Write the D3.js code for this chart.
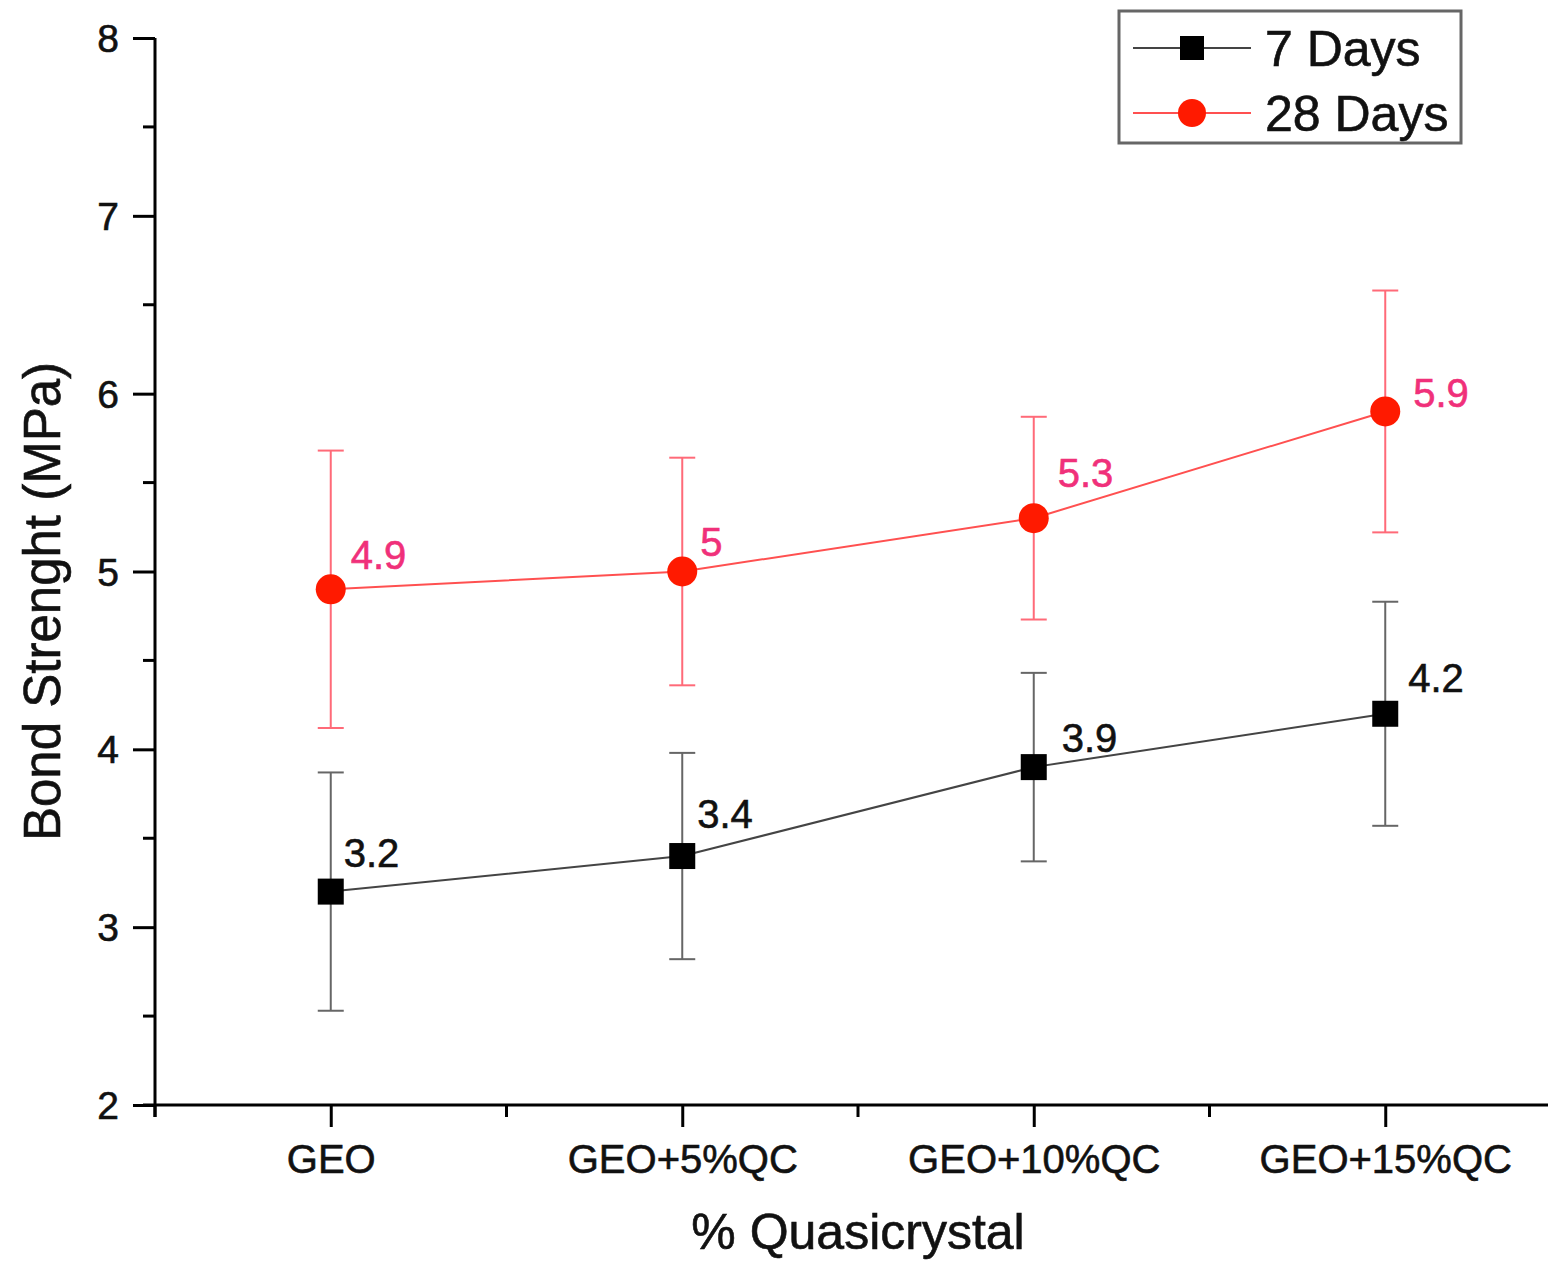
<!DOCTYPE html>
<html><head><meta charset="utf-8">
<script src="https://cdn.jsdelivr.net/npm/d3@7"></script>
<style>body{margin:0;background:#fff;} svg{display:block;font-family:"Liberation Sans",Arial,sans-serif;} text{paint-order:stroke;}</style>
</head><body>
<script>
const categories = ["GEO", "GEO+5%QC", "GEO+10%QC", "GEO+15%QC"];
const days7 = [3.2, 3.4, 3.9, 4.2];
const days7Err = [0.67, 0.58, 0.53, 0.63];
const days28 = [4.9, 5.0, 5.3, 5.9];
const days28Err = [0.78, 0.64, 0.57, 0.68];
const days7Labels = ["3.2", "3.4", "3.9", "4.2"];
const days28Labels = ["4.9", "5", "5.3", "5.9"];
const yTicks = [2, 3, 4, 5, 6, 7, 8];
const seriesNames = ["7 Days", "28 Days"];

// label offsets (layout only)
const off7 = [[13, -25], [15, -28], [28, -15], [23, -22]];
const off28 = [[20, -20], [18, -16], [24, -31], [28, -4]];

const W = 1548, H = 1264;
const svg = d3.select("body").append("svg").attr("width", W).attr("height", H);

const x = d3.scaleLinear().domain([0.5, 4.5]).range([155, 1561]);
const y = d3.scaleLinear().domain([2, 8]).range([1105, 38]);

function heavy(sel, c) { sel.attr("stroke", c).attr("stroke-width", 0.6); }

// Y axis
const yAxis = d3.axisLeft(y).tickValues(yTicks).tickSize(22).tickPadding(14).tickFormat(d3.format("d"));
const gy = svg.append("g").attr("transform", "translate(155,0)").call(yAxis);
gy.select(".domain").attr("stroke", "#000").attr("stroke-width", 3).attr("d", "M0," + y(8) + "V" + (y(2) + 12));
gy.selectAll(".tick line").attr("stroke", "#000").attr("stroke-width", 3);
gy.selectAll(".tick text").attr("font-size", 39).attr("fill", "#111").attr("font-family", "Liberation Sans, Arial").attr("dy", "0.35em").call(heavy, "#111");
const yMinor = d3.range(2.5, 8, 1);
svg.append("g").selectAll("line").data(yMinor).join("line")
  .attr("x1", 143).attr("x2", 155).attr("y1", d => y(d)).attr("y2", d => y(d))
  .attr("stroke", "#000").attr("stroke-width", 3);

// X axis
const xAxis = d3.axisBottom(x).tickValues([1, 2, 3, 4]).tickFormat((d, i) => categories[i]).tickSize(22).tickPadding(18);
const gx = svg.append("g").attr("transform", "translate(0,1105)").call(xAxis);
gx.select(".domain").attr("stroke", "#000").attr("stroke-width", 3).attr("d", "M143,0H1561");
gx.selectAll(".tick line").attr("stroke", "#000").attr("stroke-width", 3);
gx.selectAll(".tick text").attr("font-size", 40).attr("fill", "#111").attr("font-family", "Liberation Sans, Arial").call(heavy, "#111");
const xMinor = [0.5, 1.5, 2.5, 3.5, 4.5];
svg.append("g").selectAll("line").data(xMinor).join("line")
  .attr("x1", d => x(d)).attr("x2", d => x(d)).attr("y1", 1105).attr("y2", 1117)
  .attr("stroke", "#000").attr("stroke-width", 3);

// Axis titles
svg.append("text").attr("transform", "translate(60," + ((y(2) + y(8)) / 2 + 30) + ") rotate(-90)")
  .attr("text-anchor", "middle").attr("font-size", 51).attr("fill", "#111").call(heavy, "#111").text("Bond Strenght (MPa)");
svg.append("text").attr("x", 858).attr("y", 1249).attr("text-anchor", "middle")
  .attr("font-size", 50).attr("fill", "#111").call(heavy, "#111").text("% Quasicrystal");

function drawSeries(vals, errs, lineColor, errColor, marker, labels, offs, labelColor) {
  const g = svg.append("g");
  vals.forEach((v, i) => {
    const cx = x(i + 1);
    g.append("line").attr("x1", cx).attr("x2", cx).attr("y1", y(v - errs[i])).attr("y2", y(v + errs[i]))
      .attr("stroke", errColor).attr("stroke-width", 2);
    [v - errs[i], v + errs[i]].forEach(e => {
      g.append("line").attr("x1", cx - 13).attr("x2", cx + 13).attr("y1", y(e)).attr("y2", y(e))
        .attr("stroke", errColor).attr("stroke-width", 2);
    });
  });
  const line = d3.line().x((d, i) => x(i + 1)).y(d => y(d));
  g.append("path").datum(vals).attr("d", line).attr("fill", "none").attr("stroke", lineColor).attr("stroke-width", 2);
  vals.forEach((v, i) => {
    if (marker === "square") {
      g.append("rect").attr("x", x(i + 1) - 13).attr("y", y(v) - 13).attr("width", 26).attr("height", 26).attr("fill", "#000");
    } else {
      g.append("circle").attr("cx", x(i + 1)).attr("cy", y(v)).attr("r", 15).attr("fill", "#ff1a00");
    }
    g.append("text").attr("x", x(i + 1) + offs[i][0]).attr("y", y(v) + offs[i][1])
      .attr("font-size", 40).attr("fill", labelColor).call(heavy, labelColor).text(labels[i]);
  });
}
drawSeries(days28, days28Err, "#ff5050", "#ff6a78", "circle", days28Labels, off28, "#f0307a");
drawSeries(days7, days7Err, "#444", "#666", "square", days7Labels, off7, "#111");

// Legend
const lg = svg.append("g");
lg.append("rect").attr("x", 1119).attr("y", 11).attr("width", 342).attr("height", 132)
  .attr("fill", "#fff").attr("stroke", "#666").attr("stroke-width", 3);
const rows = [48, 113];
seriesNames.forEach((name, i) => {
  const ry = rows[i];
  lg.append("line").attr("x1", 1133).attr("x2", 1251).attr("y1", ry).attr("y2", ry)
    .attr("stroke", i === 0 ? "#444" : "#ff5050").attr("stroke-width", 2);
  if (i === 0) lg.append("rect").attr("x", 1180).attr("y", ry - 12).attr("width", 24).attr("height", 24).attr("fill", "#000");
  else lg.append("circle").attr("cx", 1192).attr("cy", ry).attr("r", 14).attr("fill", "#ff1a00");
  lg.append("text").attr("x", 1265).attr("y", ry + 18).attr("font-size", 50).attr("fill", "#111").call(heavy, "#111").text(name);
});
</script>
</body></html>
